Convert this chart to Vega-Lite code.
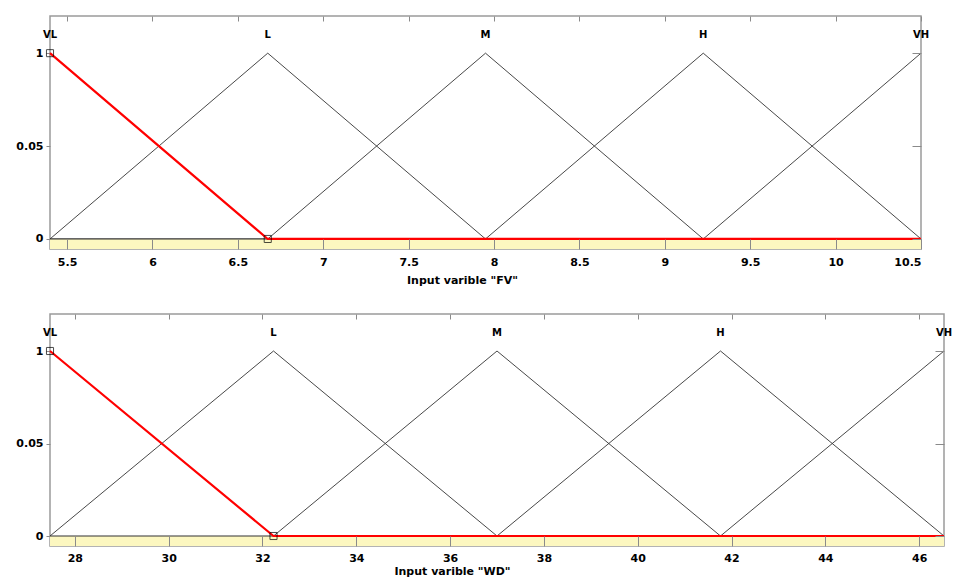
{
  "$schema": "https://vega.github.io/schema/vega-lite/v6.json",
  "padding": {"left": 15, "top": 14, "right": 5, "bottom": 2},
  "background": "white",
  "spacing": 26,
  "datasets": {
    "fv": [
      {"set": "VL", "x": 5.4, "mu": 1}, {"set": "VL", "x": 6.675, "mu": 0}, {"set": "VL", "x": 10.5, "mu": 0},
      {"set": "L", "x": 5.4, "mu": 0}, {"set": "L", "x": 6.675, "mu": 1}, {"set": "L", "x": 7.95, "mu": 0},
      {"set": "M", "x": 6.675, "mu": 0}, {"set": "M", "x": 7.95, "mu": 1}, {"set": "M", "x": 9.225, "mu": 0},
      {"set": "H", "x": 7.95, "mu": 0}, {"set": "H", "x": 9.225, "mu": 1}, {"set": "H", "x": 10.5, "mu": 0},
      {"set": "VH", "x": 9.225, "mu": 0}, {"set": "VH", "x": 10.5, "mu": 1}
    ],
    "wd": [
      {"set": "VL", "x": 27.47, "mu": 1}, {"set": "VL", "x": 32.235, "mu": 0}, {"set": "VL", "x": 46.53, "mu": 0},
      {"set": "L", "x": 27.47, "mu": 0}, {"set": "L", "x": 32.235, "mu": 1}, {"set": "L", "x": 37.0, "mu": 0},
      {"set": "M", "x": 32.235, "mu": 0}, {"set": "M", "x": 37.0, "mu": 1}, {"set": "M", "x": 41.765, "mu": 0},
      {"set": "H", "x": 37.0, "mu": 0}, {"set": "H", "x": 41.765, "mu": 1}, {"set": "H", "x": 46.53, "mu": 0},
      {"set": "VH", "x": 41.765, "mu": 0}, {"set": "VH", "x": 46.53, "mu": 1}
    ],
    "one": [{"id": 1}]
  },
  "config": {
    "view": {"stroke": "#9a9a9a", "strokeWidth": 1.5},
    "axis": {
      "labelFont": "DejaVu Sans", "labelFontWeight": "bold", "labelFontSize": 11, "labelColor": "#000",
      "titleFont": "DejaVu Sans", "titleFontWeight": "bold", "titleFontSize": 11, "titleColor": "#000",
      "tickColor": "#8a8a8a", "domain": false, "grid": false
    },
    "text": {"font": "DejaVu Sans", "fontWeight": "bold", "fontSize": 10}
  },
  "vconcat": [
    {
      "width": 871, "height": 233,
      "resolve": {"axis": {"x": "independent", "y": "independent"}},
      "layer": [
        {
          "data": {"name": "one"},
          "mark": {"type": "rect", "color": "#fcf7c0"},
          "encoding": {
            "x": {"datum": 5.4, "type": "quantitative", "scale": {"domain": [5.4, 10.5], "nice": false, "zero": false},
                  "axis": {"orient": "top", "labels": false, "tickSize": -5, "zindex": 1, "values": [5.5, 6, 6.5, 7, 7.5, 8, 8.5, 9, 9.5, 10, 10.5], "title": null}},
            "x2": {"datum": 10.5},
            "y": {"datum": -0.054, "type": "quantitative", "scale": {"domain": [-0.054, 1.2], "nice": false, "zero": false},
                  "axis": {"orient": "right", "labels": false, "tickSize": -9, "zindex": 1, "values": [0, 0.5, 1], "title": null}},
            "y2": {"datum": 0}
          }
        },
        {
          "data": {"name": "one"},
          "mark": {"type": "rule", "color": "#333", "strokeWidth": 1.2},
          "encoding": {
            "x": {"datum": 5.4, "type": "quantitative", "scale": {"domain": [5.4, 10.5], "nice": false, "zero": false}, "axis": null},
            "x2": {"datum": 10.5},
            "y": {"datum": 0, "type": "quantitative", "scale": {"domain": [-0.054, 1.2], "nice": false, "zero": false}, "axis": null}
          }
        },
        {
          "data": {"name": "fv"},
          "transform": [{"filter": "datum.set != 'VL'"}],
          "mark": {"type": "line", "color": "#333", "strokeWidth": 0.9},
          "encoding": {
            "x": {"field": "x", "type": "quantitative", "scale": {"domain": [5.4, 10.5], "nice": false, "zero": false},
                  "axis": {"orient": "bottom", "values": [5.5, 6, 6.5, 7, 7.5, 8, 8.5, 9, 9.5, 10, 10.5], "format": "~g", "zindex": 1,
                           "tickSize": -10, "labelPadding": 17, "title": "Input varible \"FV\"", "titlePadding": 7, "titleX": 412}},
            "y": {"field": "mu", "type": "quantitative", "scale": {"domain": [-0.054, 1.2], "nice": false, "zero": false},
                  "axis": {"orient": "left", "values": [0, 0.5, 1], "labelExpr": "datum.value == 0.5 ? '0.05' : format(datum.value, '~g')",
                           "tickSize": 4, "labelPadding": 3, "title": null}},
            "detail": {"field": "set"}
          }
        },
        {
          "data": {"name": "fv"},
          "transform": [{"filter": "datum.set == 'VL'"}],
          "mark": {"type": "line", "color": "#ff0000", "strokeWidth": 2.2},
          "encoding": {
            "x": {"field": "x", "type": "quantitative", "axis": null},
            "y": {"field": "mu", "type": "quantitative", "axis": null}
          }
        },
        {
          "data": {"name": "fv"},
          "transform": [{"filter": "datum.set == 'VL' && datum.x < 10"}],
          "mark": {"type": "point", "shape": "square", "filled": false, "color": "#000", "size": 50, "strokeWidth": 1},
          "encoding": {
            "x": {"field": "x", "type": "quantitative", "axis": null},
            "y": {"field": "mu", "type": "quantitative", "axis": null}
          }
        },
        {
          "data": {"name": "fv"},
          "transform": [{"filter": "datum.mu == 1"}],
          "mark": {"type": "text", "color": "#000", "baseline": "middle"},
          "encoding": {
            "x": {"field": "x", "type": "quantitative", "axis": null},
            "y": {"datum": 1.1, "type": "quantitative", "axis": null},
            "text": {"field": "set"}
          }
        }
      ]
    },
    {
      "width": 894, "height": 232,
      "resolve": {"axis": {"x": "independent", "y": "independent"}},
      "layer": [
        {
          "data": {"name": "one"},
          "mark": {"type": "rect", "color": "#fcf7c0"},
          "encoding": {
            "x": {"datum": 27.47, "type": "quantitative", "scale": {"domain": [27.47, 46.53], "nice": false, "zero": false},
                  "axis": {"orient": "top", "labels": false, "tickSize": -5, "zindex": 1, "values": [28, 30, 32, 34, 36, 38, 40, 42, 44, 46], "title": null}},
            "x2": {"datum": 46.53},
            "y": {"datum": -0.054, "type": "quantitative", "scale": {"domain": [-0.054, 1.2], "nice": false, "zero": false},
                  "axis": {"orient": "right", "labels": false, "tickSize": -9, "zindex": 1, "values": [0, 0.5, 1], "title": null}},
            "y2": {"datum": 0}
          }
        },
        {
          "data": {"name": "one"},
          "mark": {"type": "rule", "color": "#333", "strokeWidth": 1.2},
          "encoding": {
            "x": {"datum": 27.47, "type": "quantitative", "scale": {"domain": [27.47, 46.53], "nice": false, "zero": false}, "axis": null},
            "x2": {"datum": 46.53},
            "y": {"datum": 0, "type": "quantitative", "scale": {"domain": [-0.054, 1.2], "nice": false, "zero": false}, "axis": null}
          }
        },
        {
          "data": {"name": "wd"},
          "transform": [{"filter": "datum.set != 'VL'"}],
          "mark": {"type": "line", "color": "#333", "strokeWidth": 0.9},
          "encoding": {
            "x": {"field": "x", "type": "quantitative", "scale": {"domain": [27.47, 46.53], "nice": false, "zero": false},
                  "axis": {"orient": "bottom", "values": [28, 30, 32, 34, 36, 38, 40, 42, 44, 46], "format": "~g", "zindex": 1,
                           "tickSize": -10, "labelPadding": 16, "title": "Input varible \"WD\"", "titlePadding": 2, "titleX": 402}},
            "y": {"field": "mu", "type": "quantitative", "scale": {"domain": [-0.054, 1.2], "nice": false, "zero": false},
                  "axis": {"orient": "left", "values": [0, 0.5, 1], "labelExpr": "datum.value == 0.5 ? '0.05' : format(datum.value, '~g')",
                           "tickSize": 4, "labelPadding": 3, "title": null}},
            "detail": {"field": "set"}
          }
        },
        {
          "data": {"name": "wd"},
          "transform": [{"filter": "datum.set == 'VL'"}],
          "mark": {"type": "line", "color": "#ff0000", "strokeWidth": 2.2},
          "encoding": {
            "x": {"field": "x", "type": "quantitative", "axis": null},
            "y": {"field": "mu", "type": "quantitative", "axis": null}
          }
        },
        {
          "data": {"name": "wd"},
          "transform": [{"filter": "datum.set == 'VL' && datum.x < 40"}],
          "mark": {"type": "point", "shape": "square", "filled": false, "color": "#000", "size": 50, "strokeWidth": 1},
          "encoding": {
            "x": {"field": "x", "type": "quantitative", "axis": null},
            "y": {"field": "mu", "type": "quantitative", "axis": null}
          }
        },
        {
          "data": {"name": "wd"},
          "transform": [{"filter": "datum.mu == 1"}],
          "mark": {"type": "text", "color": "#000", "baseline": "middle"},
          "encoding": {
            "x": {"field": "x", "type": "quantitative", "axis": null},
            "y": {"datum": 1.1, "type": "quantitative", "axis": null},
            "text": {"field": "set"}
          }
        }
      ]
    }
  ]
}
